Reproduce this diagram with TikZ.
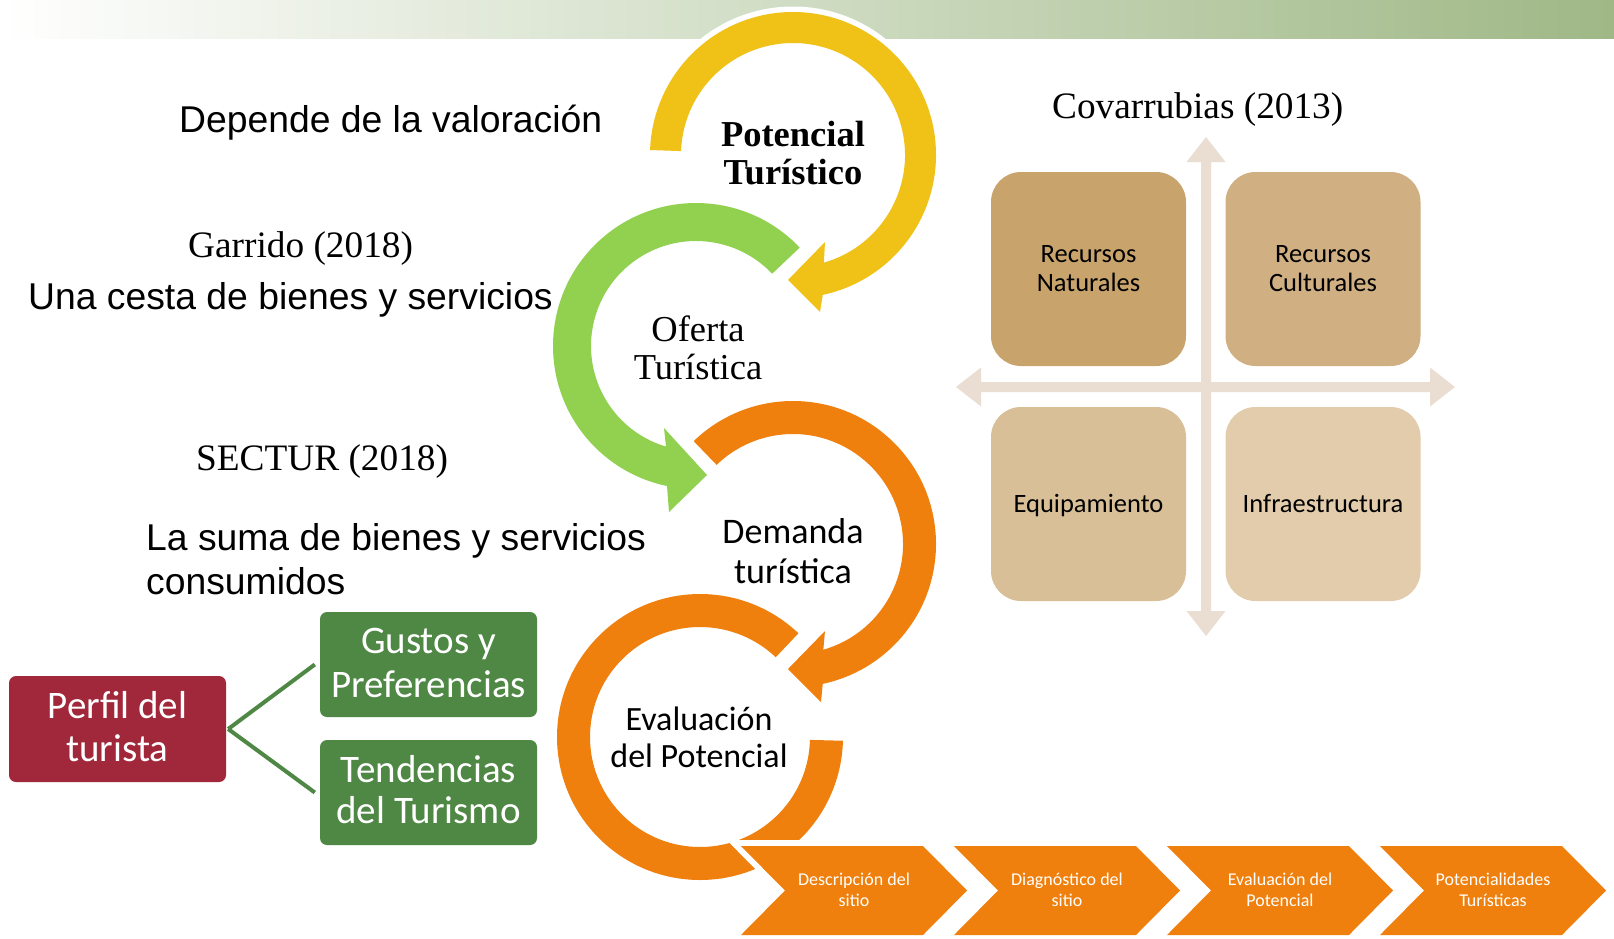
\documentclass[tikz,border=0pt]{standalone}
\usepackage{fontspec}
\setmainfont{Liberation Serif}
\newfontfamily\arialf{Liberation Sans}
\newfontfamily\calf{Carlito}
\usetikzlibrary{calc}
\definecolor{yel}{HTML}{F0C117}
\definecolor{grn}{HTML}{92D050}
\definecolor{org}{HTML}{EF800D}
\definecolor{wine}{HTML}{A0283A}
\definecolor{boxg}{HTML}{4F8744}
\definecolor{bannerg}{HTML}{9FB886}
\definecolor{qa}{HTML}{C8A46C}
\definecolor{qb}{HTML}{D0AF83}
\definecolor{qc}{HTML}{D8BF97}
\definecolor{qd}{HTML}{E2CCAB}
\definecolor{qarr}{HTML}{EADDD1}
\begin{document}
\begin{tikzpicture}[x=1pt,y=-1pt,
  sanstxt/.style={font=\arialf\fontsize{37.3}{44}\selectfont, inner sep=0pt, anchor=base west},
  seriftxt/.style={font=\fontsize{37.3}{44}\selectfont, inner sep=0pt, anchor=base west},
  ringbold/.style={font=\bfseries\fontsize{36.5}{44}\selectfont, inner sep=0pt, anchor=base},
  ringser/.style={font=\fontsize{36.5}{44}\selectfont, inner sep=0pt, anchor=base},
  ringcal/.style={font=\calf\fontsize{#1}{40}\selectfont, inner sep=0pt, anchor=base},
  boxtxt/.style={font=\calf\fontsize{39}{44}\selectfont, text=white, inner sep=0pt, anchor=base},
  qtxt/.style={font=\calf\fontsize{26.5}{30}\selectfont, inner sep=0pt, anchor=base},
  chevtxt/.style={font=\calf\fontsize{18}{21}\selectfont, text=white, inner sep=0pt, anchor=base},
  rbox/.style={fill=wine, rounded corners=7pt, minimum width=217pt, minimum height=106pt, inner sep=0pt},
  gbox/.style={fill=boxg, rounded corners=7pt, minimum width=217pt, minimum height=105pt, inner sep=0pt},
  qbox/.style={rounded corners=30pt, minimum width=195pt, minimum height=194pt, inner sep=0pt},
  conn/.style={draw=boxg, line width=4pt},
  halo/.style={preaction={draw=white, line width=11pt, line join=round}}
]
\useasboundingbox (0,0) rectangle (1614,938);
\fill[white] (0,0) rectangle (1614,938);
% banner
\shade[left color=white, right color=bannerg] (0,0) rectangle (1614,38.5);

% ring 1: Potencial Turistico (yellow)
\coordinate (yc) at (793,155);
\path[fill=yel, halo] ($(yc)+(-178:143)$) arc[start angle=-178, end angle=78, radius=143]
  -- (820,312) -- (788,280) -- (825,242) -- ($(yc)+(74:112)$)
  arc[start angle=74, end angle=-178, radius=112] -- cycle;

% ring 2: Oferta Turistica (green)
\coordinate (gc) at (696,346);
\path[fill=grn, halo] ($(gc)+(-43.5:143)$) arc[start angle=-43.5, end angle=-258.3, radius=143]
  -- (669,512) -- (707,475) -- (664,428) -- ($(gc)+(-253.4:105)$)
  arc[start angle=-253.4, end angle=-43.5, radius=105] -- cycle;

% ring 3: Demanda turistica (orange)
\coordinate (oc1) at (793,544);
\path[fill=org, halo] ($(oc1)+(-134:143)$) arc[start angle=-134, end angle=78, radius=143]
  -- (821,702) -- (788,669) -- (825,631) -- ($(oc1)+(74:110)$)
  arc[start angle=74, end angle=-134, radius=110] -- cycle;

% ring 4: Evaluacion del Potencial (orange)
\coordinate (oc2) at (700,737);
\path[fill=org, halo] ($(oc2)+(-46.5:143)$) arc[start angle=-46.5, end angle=-358.5, radius=143]
  -- ($(oc2)+(-358.5:110)$) arc[start angle=-358.5, end angle=-46.5, radius=110] -- cycle;

% chevrons
\foreach \i/\la/\lb in {0/Descripción del/sitio, 1/Diagnóstico del/sitio, 2/Evaluación del/Potencial, 3/Potencialidades/Turísticas}{
  \pgfmathsetmacro\xo{741+213*\i}
  \path[fill=org, preaction={draw=white, line width=12pt}] (\xo,846) -- ++(182,0) -- ++(44,44.5) -- ++(-44,44.5) -- ++(-182,0) -- ++(44,-44.5) -- cycle;
  \node[chevtxt] (chA\i) at (\xo+113,885) {\la};
  \node[chevtxt] (chB\i) at (\xo+113,906) {\lb};
}

% ring labels
\node[ringbold] (pot1) at (793,146) {Potencial};
\node[ringbold] (pot2) at (793,184) {Turístico};
\node[ringser] (of1) at (698,341) {Oferta};
\node[ringser] (of2) at (698,379) {Turística};
\node[ringcal=36] (de1) at (793,543) {Demanda};
\node[ringcal=36] (de2) at (793,583) {turística};
\node[ringcal=34] (ev1) at (699,730) {Evaluación};
\node[ringcal=34] (ev2) at (699,767) {del Potencial};

% left texts
\node[sanstxt] (dep) at (179,132) {Depende de la valoración};
\node[seriftxt] (garr) at (188,257) {Garrido (2018)};
\node[sanstxt] (cesta) at (28,309) {Una cesta de bienes y servicios};
\node[seriftxt] (sect) at (196,470) {SECTUR (2018)};
\node[sanstxt] (suma1) at (146,550) {La suma de bienes y servicios};
\node[sanstxt] (suma2) at (146,594) {consumidos};

% perfil del turista
\node[rbox] (perfil) at (117.5,729) {};
\node[gbox] (gustos) at (428.5,664.5) {};
\node[gbox] (tend) at (428.5,792.5) {};
\node[boxtxt] (pf1) at (117.5,718) {Perfil del};
\node[boxtxt] (pf2) at (117.5,761) {turista};
\node[boxtxt] (gu1) at (428.5,653) {Gustos y};
\node[boxtxt] (gu2) at (428.5,697) {Preferencias};
\node[boxtxt] (te1) at (428.5,782) {Tendencias};
\node[boxtxt] (te2) at (428.5,823) {del Turismo};
\draw[conn] ([xshift=2pt]perfil.east) -- ([xshift=-5pt]gustos.west);
\draw[conn] ([xshift=2pt]perfil.east) -- ([xshift=-5pt]tend.west);

% Covarrubias quadrant
\node[seriftxt] (cov) at (1052,118) {Covarrubias (2013)};
\fill[qarr] (1206,137) -- (1225.5,162) -- (1211,162) -- (1211,611) -- (1225.5,611) -- (1206,636)
  -- (1186.5,611) -- (1201,611) -- (1201,162) -- (1186.5,162) -- cycle;
\fill[qarr] (956,387) -- (981,367.5) -- (981,382) -- (1430,382) -- (1430,367.5) -- (1455,387)
  -- (1430,406.5) -- (1430,392) -- (981,392) -- (981,406.5) -- cycle;
\node[qbox, fill=qa] (qtl) at (1088.5,269) {};
\node[qbox, fill=qb] (qtr) at (1323,269) {};
\node[qbox, fill=qc] (qbl) at (1088.5,504) {};
\node[qbox, fill=qd] (qbr) at (1323,504) {};
\node[qtxt] (qtl1) at (1088.5,262) {Recursos};
\node[qtxt] (qtl2) at (1088.5,291) {Naturales};
\node[qtxt] (qtr1) at (1323,262) {Recursos};
\node[qtxt] (qtr2) at (1323,291) {Culturales};
\node[qtxt] (qbl1) at (1088.5,512) {Equipamiento};
\node[qtxt] (qbr1) at (1323,512) {Infraestructura};
\end{tikzpicture}
\end{document}
